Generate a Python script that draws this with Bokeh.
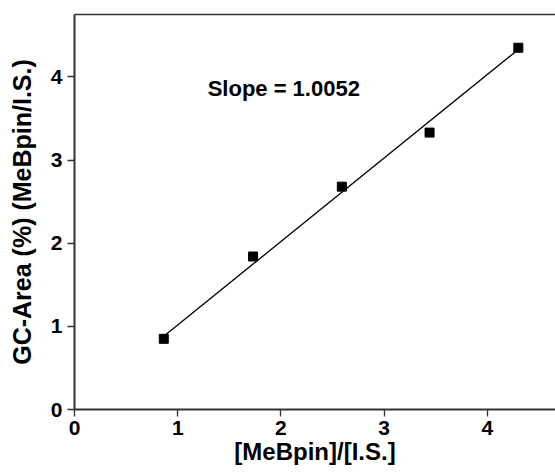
from bokeh.plotting import figure
from bokeh.models import Range1d, LinearAxis, FixedTicker, Label, ColumnDataSource
from bokeh.embed import file_html
from bokeh.resources import INLINE

# Data
ratio_x = [0.865, 1.73, 2.59, 3.44, 4.30]
gc_area_y = [0.85, 1.84, 2.68, 3.33, 4.35]
fit_x = [0.865, 4.30]
fit_y = [0.88, 4.33]
slope_text = "Slope = 1.0052"
x_title = "[MeBpin]/[I.S.]"
y_title = "GC-Area (%) (MeBpin/I.S.)"
x_ticks = [0, 1, 2, 3, 4]
y_ticks = [0, 1, 2, 3, 4]

FONT = "Liberation Sans"
AX = "#333333"

p = figure(width=555, height=473, output_backend="svg", toolbar_location=None,
           x_range=Range1d(0, 4.66), y_range=Range1d(0, 4.75),
           min_border_left=74, min_border_right=0, min_border_top=14, min_border_bottom=64)
p.outline_line_color = None
p.grid.visible = False
p.background_fill_color = "white"
p.border_fill_color = "white"

p.line(fit_x, fit_y, line_color="black", line_width=1.3)
src = ColumnDataSource(dict(x=ratio_x, y=gc_area_y))
p.scatter("x", "y", source=src, marker="square", size=9, fill_color="black", line_color="black")

for ax, ticks in ((p.xaxis[0], x_ticks), (p.yaxis[0], y_ticks)):
    ax.ticker = FixedTicker(ticks=ticks)
    ax.minor_tick_line_color = None
    ax.major_tick_in = 0
    ax.major_tick_out = 7
    ax.major_tick_line_color = AX
    ax.major_tick_line_width = 1.3
    ax.axis_line_color = AX
    ax.axis_line_width = 2
    ax.major_label_text_font = FONT
    ax.major_label_text_font_style = "bold"
    ax.major_label_text_font_size = "21px"
    ax.major_label_text_color = "black"
    ax.axis_label_text_font = FONT
    ax.axis_label_text_font_style = "bold"
    ax.axis_label_text_color = "black"

p.xaxis.axis_label = x_title
p.xaxis.axis_label_text_font_size = "24px"
p.xaxis.major_label_standoff = 4
p.xaxis.axis_label_standoff = 0

p.yaxis.axis_label = y_title
p.yaxis.axis_label_text_font_size = "25px"
p.yaxis.major_label_standoff = 5
p.yaxis.axis_label_standoff = 12

top = LinearAxis(ticker=FixedTicker(ticks=[]), axis_line_color=AX, axis_line_width=1.7,
                 major_tick_line_color=None, minor_tick_line_color=None,
                 major_label_text_font_size="0px")
p.add_layout(top, "above")

p.add_layout(Label(x=1.29, y=3.855, text=slope_text, text_font=FONT, text_font_style="bold",
                   text_font_size="22px", text_color="black", text_baseline="alphabetic"))

open("out.html", "w").write(file_html(p, INLINE))
